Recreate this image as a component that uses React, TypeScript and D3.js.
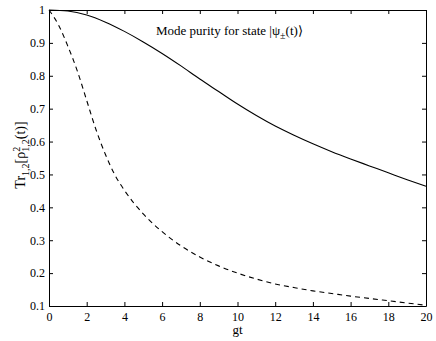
import React, { useEffect, useRef } from "react";
import * as d3 from "d3";

// gt values and purity for the two curves
const gtSolid = [0, 1, 2, 3, 4, 5, 6, 7, 8, 9, 10, 11, 12, 13, 14, 15, 16, 17, 18, 19, 20];
const puritySolid = [1.0, 0.997, 0.985, 0.963, 0.935, 0.903, 0.868, 0.83, 0.79, 0.752, 0.714, 0.679, 0.647, 0.619, 0.593, 0.569, 0.547, 0.526, 0.505, 0.484, 0.464];

const gtDashed = [0, 0.5, 1, 1.5, 2, 2.5, 3, 3.5, 4, 4.5, 5, 6, 7, 8, 9, 10, 11, 12, 13, 14, 15, 16, 17, 18, 19, 20];
const purityDashed = [1.0, 0.955, 0.89, 0.815, 0.725, 0.635, 0.56, 0.498, 0.452, 0.413, 0.38, 0.326, 0.283, 0.249, 0.222, 0.2, 0.182, 0.167, 0.156, 0.146, 0.138, 0.13, 0.123, 0.116, 0.109, 0.102];

const xTicks = [0, 2, 4, 6, 8, 10, 12, 14, 16, 18, 20];
const yTicks = [0.1, 0.2, 0.3, 0.4, 0.5, 0.6, 0.7, 0.8, 0.9, 1];

export default function App() {
  const ref = useRef<SVGSVGElement>(null);

  useEffect(() => {
    const width = 436;
    const height = 341;
    const margin = { top: 10, right: 10, bottom: 35, left: 49 };
    const innerWidth = width - margin.left - margin.right;
    const innerHeight = height - margin.top - margin.bottom;

    const font = "Liberation Serif, Times New Roman, serif";

    const svg = d3.select(ref.current)
      .attr("font-family", font);
    svg.selectAll("*").remove();

    const g = svg.append("g")
      .attr("transform", `translate(${margin.left}, ${margin.top})`);

    const xScale = d3.scaleLinear().domain([0, 20]).range([0, innerWidth]);
    const yScale = d3.scaleLinear().domain([0.1, 1]).range([innerHeight, 0]);

    // axes, ticks pointing inward on all four sides
    const fmt = (d: d3.NumberValue) => String(+(+d).toFixed(1));
    const bottom = g.append("g")
      .attr("transform", `translate(0, ${innerHeight})`)
      .call(d3.axisBottom(xScale).tickValues(xTicks).tickSizeInner(-4).tickSizeOuter(0).tickPadding(6).tickFormat(fmt));
    const left = g.append("g")
      .call(d3.axisLeft(yScale).tickValues(yTicks).tickSizeInner(-4).tickSizeOuter(0).tickPadding(4).tickFormat(fmt));
    const top = g.append("g")
      .call(d3.axisTop(xScale).tickValues(xTicks).tickSizeInner(-4).tickSizeOuter(0).tickFormat(() => ""));
    const right = g.append("g")
      .attr("transform", `translate(${innerWidth}, 0)`)
      .call(d3.axisRight(yScale).tickValues(yTicks).tickSizeInner(-4).tickSizeOuter(0).tickFormat(() => ""));

    [bottom, left, top, right].forEach(a => {
      a.attr("font-family", font).attr("font-size", 12);
      a.selectAll("path, line").attr("stroke", "#000").attr("stroke-width", 1);
      a.selectAll("text").attr("fill", "#000");
    });

    // curves
    const line = d3.line<[number, number]>()
      .x(d => xScale(d[0]))
      .y(d => yScale(d[1]))
      .curve(d3.curveMonotoneX);

    g.append("path")
      .datum(gtSolid.map((x, i) => [x, puritySolid[i]] as [number, number]))
      .attr("fill", "none")
      .attr("stroke", "#000")
      .attr("stroke-width", 1.1)
      .attr("d", line);

    g.append("path")
      .datum(gtDashed.map((x, i) => [x, purityDashed[i]] as [number, number]))
      .attr("fill", "none")
      .attr("stroke", "#000")
      .attr("stroke-width", 1.1)
      .attr("stroke-dasharray", "5,4")
      .attr("d", line);

    // title inside plot
    const title = svg.append("text")
      .attr("x", 156)
      .attr("y", 35)
      .attr("font-size", 13)
      .attr("fill", "#000");
    title.append("tspan").text("Mode purity for state |ψ");
    title.append("tspan").attr("dy", 4).attr("font-size", 10).text("±");
    title.append("tspan").attr("dy", -4).text("(t)⟩");

    // x label
    svg.append("text")
      .attr("x", margin.left + innerWidth / 2)
      .attr("y", 334)
      .attr("text-anchor", "middle")
      .attr("font-size", 13)
      .text("gt");

    // y label
    const yl = svg.append("text")
      .attr("transform", "translate(25, 155) rotate(-90)")
      .attr("text-anchor", "middle")
      .attr("font-size", 14)
      .attr("fill", "#000");
    yl.append("tspan").text("Tr");
    yl.append("tspan").attr("dy", 4).attr("font-size", 10).text("1,2");
    yl.append("tspan").attr("dy", -4).text("[ρ");
    yl.append("tspan").attr("dy", -5).attr("font-size", 10).text("2");
    yl.append("tspan").attr("dx", -5).attr("dy", 9).attr("font-size", 10).text("1,2");
    yl.append("tspan").attr("dy", -4).text("(t)]");
  }, []);

  return (
    <svg
      ref={ref}
      width={436}
      height={341}
      style={{ position: "absolute", left: 0, top: 0, background: "#fff" }}
    ></svg>
  );
}
